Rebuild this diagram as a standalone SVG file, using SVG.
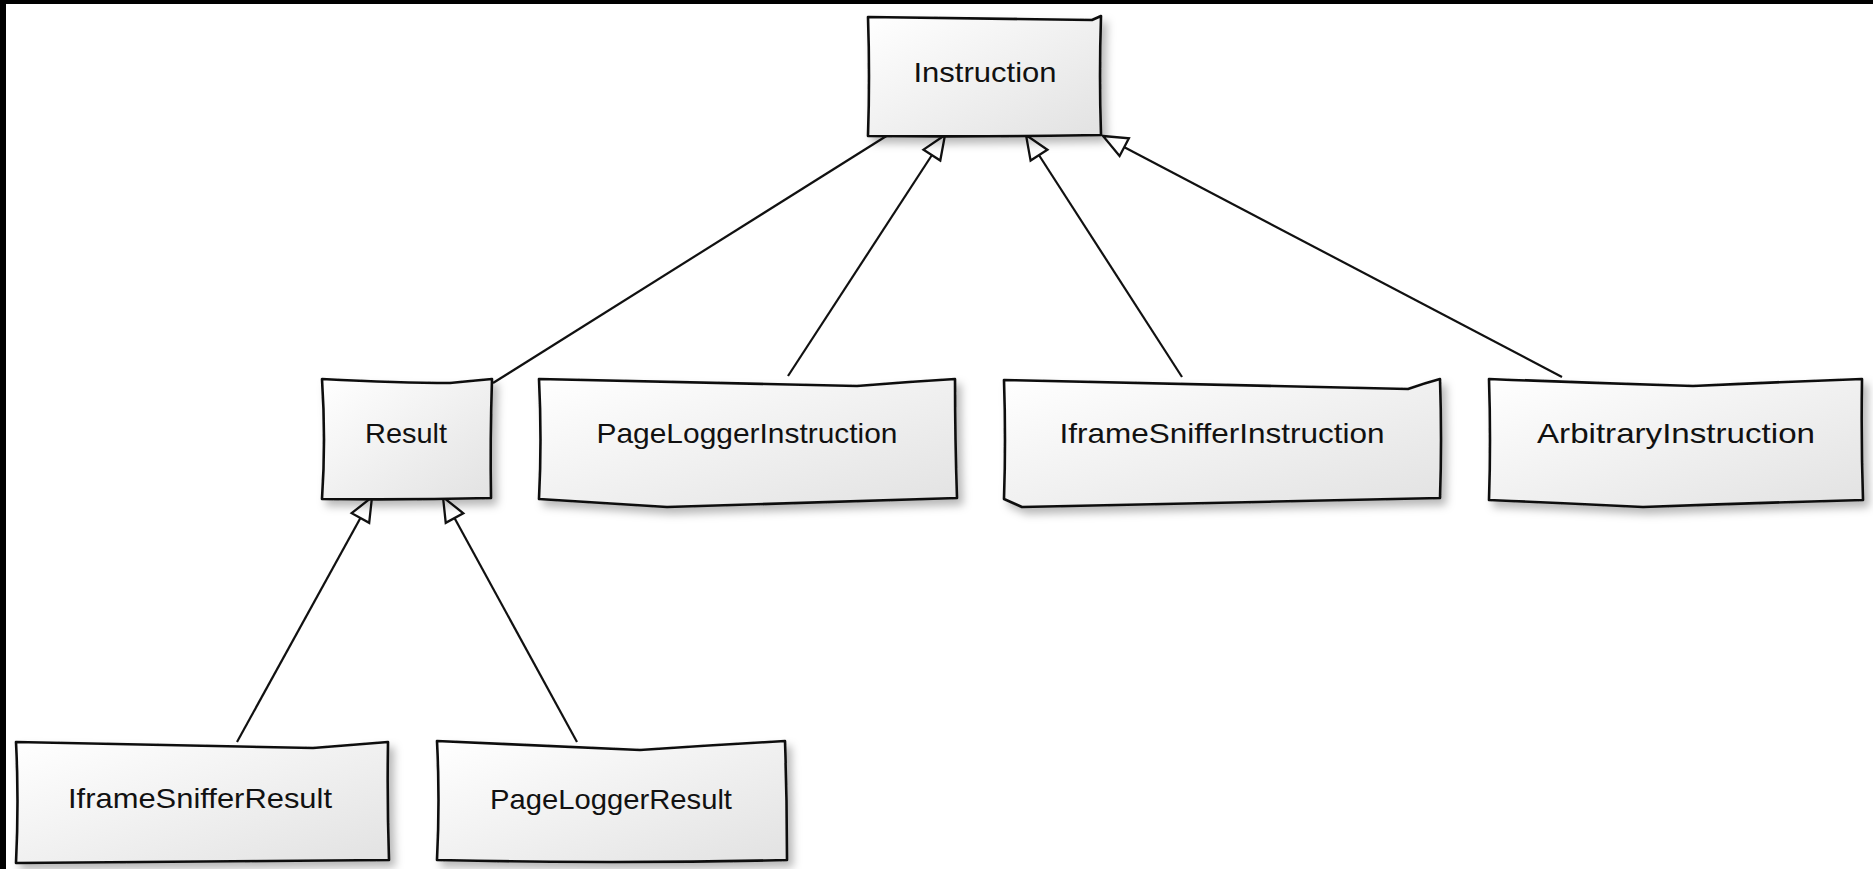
<svg xmlns="http://www.w3.org/2000/svg" width="1873" height="869" viewBox="0 0 1873 869">
<defs>
<linearGradient id="boxFill" x1="0" y1="0" x2="1" y2="1">
<stop offset="0" stop-color="#ffffff"/>
<stop offset="1" stop-color="#e2e2e2"/>
</linearGradient>
<filter id="shadow" x="-10%" y="-10%" width="130%" height="140%">
<feDropShadow dx="5" dy="6" stdDeviation="4" flood-color="#000" flood-opacity="0.28"/>
</filter>
<marker id="hollow" viewBox="0 0 28 24" refX="26" refY="12" markerWidth="28" markerHeight="24" markerUnits="userSpaceOnUse" orient="auto">
<path d="M2,2 L26,12 L2,22 Z" fill="#fff" stroke="#111" stroke-width="2.3" stroke-linejoin="miter"/>
</marker>
</defs>
<style>
.box{fill:url(#boxFill);stroke:#111;stroke-width:2.6;stroke-linejoin:round;filter:url(#shadow)}
.lbl{font-family:"Liberation Sans","DejaVu Sans",sans-serif;font-size:28px;fill:#111;text-anchor:middle}
.edge{fill:none;stroke:#111;stroke-width:2.2}
.gen{marker-end:url(#hollow)}
</style>
<rect x="0" y="0" width="1873" height="869" fill="#ffffff"/>
<rect x="0" y="0" width="1873" height="4" fill="#000"/>
<rect x="0" y="0" width="6" height="869" fill="#000"/>

<g id="connectors">
<path class="edge" d="M493,383 L888,135"/>
<path class="edge gen" d="M788,376 L945,135"/>
<path class="edge gen" d="M1182,377 L1026,135"/>
<path class="edge gen" d="M1562,377 L1103,136"/>
<path class="edge gen" d="M237,742 L372,497"/>
<path class="edge gen" d="M577,742 L443,497"/>
</g>

<g id="node-instruction">
<path class="box" d="M868,17 Q980,19 1092,20 L1101,16 Q1099,76 1101,135 Q985,137 868,136 Q870,76 868,17 Z"/>
<text class="lbl" x="985" y="82" textLength="143" lengthAdjust="spacingAndGlyphs">Instruction</text>
</g>

<g id="node-result">
<path class="box" d="M322,379 Q400,383 450,383 Q470,381 492,379 Q490,440 491,498 Q406,500 322,499 Q326,440 322,379 Z"/>
<text class="lbl" x="406" y="443" textLength="82" lengthAdjust="spacingAndGlyphs">Result</text>
</g>

<g id="node-pageloggerinstruction">
<path class="box" d="M539,379 Q760,384 857,386 Q905,382 955,379 Q955,440 957,498 Q810,502 667,507 Q600,503 539,499 Q542,440 539,379 Z"/>
<text class="lbl" x="747" y="443" textLength="301" lengthAdjust="spacingAndGlyphs">PageLoggerInstruction</text>
</g>

<g id="node-iframesnifferinstruction">
<path class="box" d="M1004,380 Q1300,386 1408,389 Q1425,383 1440,379 Q1442,440 1440,498 Q1230,503 1022,507 L1004,499 Q1006,440 1004,380 Z"/>
<text class="lbl" x="1222" y="443" textLength="325" lengthAdjust="spacingAndGlyphs">IframeSnifferInstruction</text>
</g>

<g id="node-arbitraryinstruction">
<path class="box" d="M1489,379 Q1590,383 1693,386 Q1780,382 1862,379 Q1861,440 1863,500 Q1750,503 1643,507 Q1565,503 1489,500 Q1491,440 1489,379 Z"/>
<text class="lbl" x="1676" y="443" textLength="278" lengthAdjust="spacingAndGlyphs">ArbitraryInstruction</text>
</g>

<g id="node-iframesnifferresult">
<path class="box" d="M16,742 Q160,745 313,748 Q350,745 388,742 Q387,800 389,860 Q200,862 16,863 Q19,800 16,742 Z"/>
<text class="lbl" x="200" y="808" textLength="264" lengthAdjust="spacingAndGlyphs">IframeSnifferResult</text>
</g>

<g id="node-pageloggerresult">
<path class="box" d="M437,741 Q540,746 640,750 Q712,745 785,741 Q787,800 787,860 Q612,864 437,860 Q440,800 437,741 Z"/>
<text class="lbl" x="611" y="809" textLength="242" lengthAdjust="spacingAndGlyphs">PageLoggerResult</text>
</g>
</svg>
